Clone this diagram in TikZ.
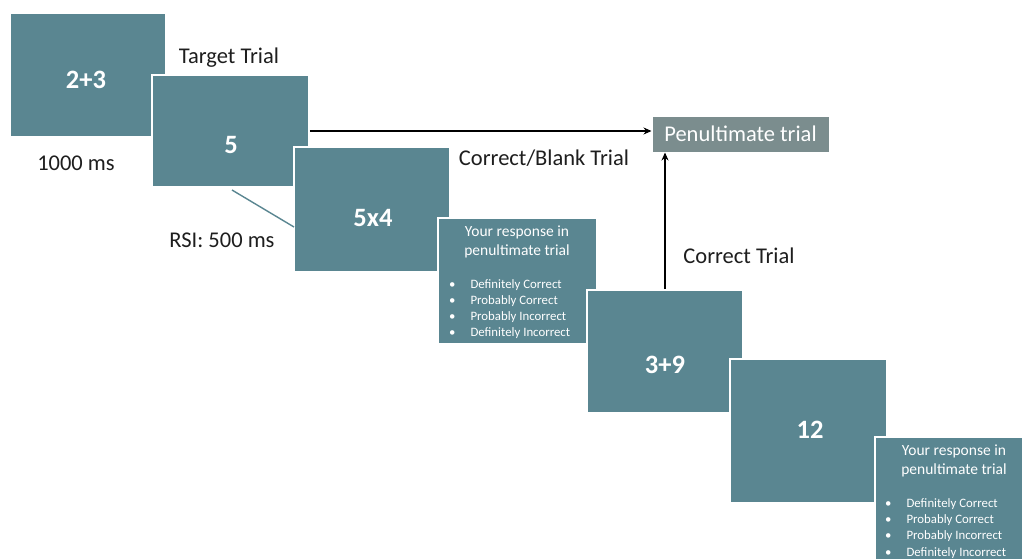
\documentclass[tikz,border=0pt]{standalone}
\usepackage{fontspec}
\setmainfont{Carlito}
\usetikzlibrary{arrows.meta}
\definecolor{teal1}{RGB}{90,134,145}
\definecolor{pengrey}{RGB}{123,141,142}
\definecolor{txtdark}{RGB}{30,30,30}
\tikzset{
  trial/.style={draw=white, line width=1.6pt, fill=teal1, inner sep=0pt},
  numtxt/.style={text=white, font=\bfseries\fontsize{26.5}{30}\selectfont, inner sep=0pt},
  lbl/.style={text=txtdark, font=\fontsize{22.5}{26}\selectfont, inner sep=0pt},
  resptitle/.style={text=white, font=\fontsize{15.5}{19}\selectfont, align=center, inner sep=0pt},
  respitem/.style={text=white, font=\fontsize{12.8}{16.3}\selectfont, align=left, inner sep=0pt, anchor=north west},
  conn/.style={-{Stealth[length=8pt,width=7pt]}, line width=1.2pt, black}
}
\begin{document}
\begin{tikzpicture}[x=1pt,y=-1pt]
\clip (0,0) rectangle (1022,558);
\fill[white] (0,0) rectangle (1022,558);
% trial boxes
\node[trial, minimum width=156pt, minimum height=124pt] (b1) at (88,75) {};
\node[numtxt] (b1t) at (86,80) {2+3};
\node[trial, minimum width=157pt, minimum height=112pt] (b2) at (230.5,131) {};
\node[numtxt] (b2t) at (231,145) {5};
\node[trial, minimum width=156pt, minimum height=125pt] (b3) at (372,209.5) {};
\node[numtxt] (b3t) at (373,218) {5x4};
% response box 1
\node[trial, minimum width=159pt, minimum height=126pt] (r1) at (517.5,281) {};
\node[resptitle] (r1t) at (517,242) {Your response in\\penultimate trial};
\node[respitem] (r1i) at (449,279) {\textbullet\hspace{15pt}Definitely Correct\\\textbullet\hspace{15pt}Probably Correct\\\textbullet\hspace{15pt}Probably Incorrect\\\textbullet\hspace{15pt}Definitely Incorrect};
% trial boxes continued
\node[trial, minimum width=156pt, minimum height=123pt] (b4) at (665,351.5) {};
\node[numtxt] (b4t) at (665,365) {3+9};
\node[trial, minimum width=157pt, minimum height=144pt] (b5) at (808.5,431) {};
\node[numtxt] (b5t) at (810,430) {12};
% response box 2
\node[trial, minimum width=160pt, minimum height=126pt] (r2) at (955,500) {};
\node[resptitle] (r2t) at (954,461) {Your response in\\penultimate trial};
\node[respitem] (r2i) at (885,498) {\textbullet\hspace{15pt}Definitely Correct\\\textbullet\hspace{15pt}Probably Correct\\\textbullet\hspace{15pt}Probably Incorrect\\\textbullet\hspace{15pt}Definitely Incorrect};
% penultimate box
\node[fill=pengrey, draw=white, line width=1pt, minimum width=177pt, minimum height=36pt, inner sep=0pt, text=white, font=\fontsize{22.5}{26}\selectfont] (pen) at (740.5,134) {Penultimate trial};
% labels
\node[lbl] (tt) at (229,58) {Target Trial};
\node[lbl] (ms1) at (76,163) {1000 ms};
\node[lbl] (rsi) at (222,240) {RSI: 500 ms};
\node[lbl] (cb) at (544,158) {Correct/Blank Trial};
\node[lbl] (ct) at (739,256) {Correct Trial};
% connectors
\draw[conn] (b2.east) -- (b2.east -| pen.west);
\draw[conn] (b4.north) -- (b4.north |- pen.south);
\coordinate (rsiA) at (232,190);
\coordinate (rsiB) at (294,227);
\draw[teal1, line width=1.4pt] (rsiA) -- (rsiB);
\end{tikzpicture}
\end{document}
